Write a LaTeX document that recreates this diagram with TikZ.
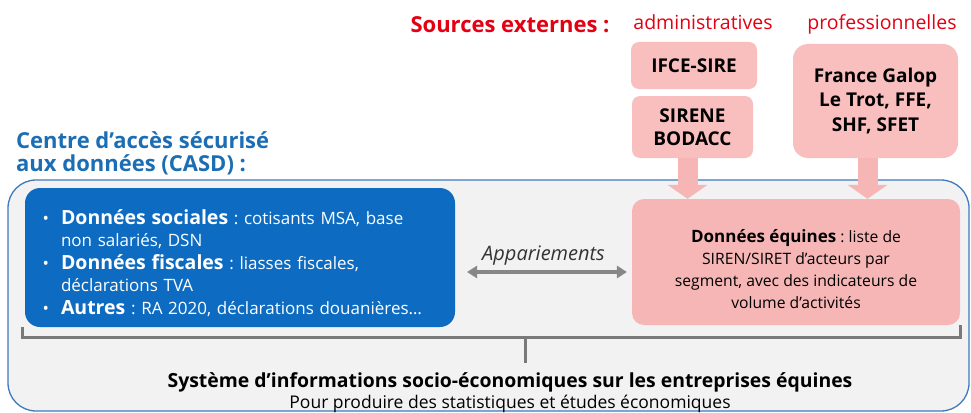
\documentclass[tikz,border=0pt]{standalone}
\usepackage{fontspec}
\setmainfont{Open Sans}
\frenchspacing
\usetikzlibrary{arrows.meta,positioning}
% palette
\definecolor{casdBlue}{RGB}{13,108,194}
\definecolor{casdTitle}{RGB}{28,110,180}
\definecolor{casdFrame}{RGB}{62,122,190}
\definecolor{casdGround}{RGB}{242,242,242}
\definecolor{srcRed}{RGB}{226,0,18}
\definecolor{srcPink}{RGB}{249,190,190}
\definecolor{eqPink}{RGB}{247,182,182}
\definecolor{linkGray}{RGB}{135,135,135}
\newcommand{\fs}[2]{\fontsize{#1}{#2}\selectfont}
\begin{document}
\begin{tikzpicture}[x=1pt, y=-1pt,
  srcbox/.style={fill=srcPink, rounded corners=8pt, align=center, inner sep=0pt,
    font=\bfseries\fs{19}{23}},
  srctitle/.style={text=srcRed, anchor=base, inner sep=0pt},
  feedarrow/.style={draw=eqPink, line width=20pt,
    -{Triangle[width=40pt, length=14pt, line width=0pt]}},
  bracket/.style={draw=linkGray!90!black, line width=3pt}]
\useasboundingbox (0,0) rectangle (971,412);
% CASD enclosure
\path[fill=casdGround, draw=casdFrame, line width=1.3pt, rounded corners=28pt]
  (8,180) rectangle (969,411);
% external sources
\node[srctitle, font=\bfseries\fs{22}{24}] (ext) at (510,33) {Sources externes :};
\node[srctitle, font=\fs{19.5}{22}] (adm) at (703,30) {administratives};
\node[srctitle, font=\fs{19.5}{22}] (pro) at (882,30) {professionnelles};
\node[srcbox, minimum width=126pt, minimum height=47pt] (ifce) at (694,65.5) {IFCE-SIRE};
\node[srcbox, minimum width=121pt, minimum height=62pt] (sirene) at (692.5,127) {SIRENE\\BODACC};
\node[srcbox, rounded corners=15pt, minimum width=165pt, minimum height=114pt,
  font=\bfseries\fs{19}{24.5}] (galop) at (875.5,101) {France Galop\\Le Trot, FFE,\\SHF, SFET};
% CASD heading
\node[anchor=north west, inner sep=0pt, align=left, text=casdTitle,
  font=\bfseries\fs{22}{23.5}] (casdhead) at (16,131) {Centre d’accès sécurisé\\aux données (CASD) :};
% data held in the CASD
\node[fill=casdBlue, rounded corners=15pt, minimum width=430pt, minimum height=139pt]
  (casd) at (240,257.5) {};
\node[text=white, text width=394pt, inner sep=0pt, font=\fs{17}{22.5}] (casdtext)
  at ([yshift=2.5pt]casd.center) {%
  \setlength\leftmargini{18pt}\setlength\labelsep{12pt}%
  \begin{itemize}\setlength\itemsep{0pt}\setlength\parskip{0pt}
    \item {\bfseries\fs{19.5}{22.5}Données sociales} : cotisants MSA, base\newline non salariés, DSN
    \item {\bfseries\fs{19.5}{22.5}Données fiscales} : liasses fiscales,\newline déclarations TVA
    \item {\bfseries\fs{19.5}{22.5}Autres} : RA 2020, déclarations douanières…
  \end{itemize}};
\node[fill=eqPink, rounded corners=12pt, minimum width=328pt, minimum height=126pt]
  (equines) at (796,262) {};
\node[align=center, inner sep=0pt, font=\fs{15.7}{22}] (eqtext) at ([yshift=-7pt]equines.center)
  {{\bfseries\fs{17}{22}Données équines} : liste de\\SIREN/SIRET d’acteurs par\\segment, avec des indicateurs de\\volume d’activités};
% links
\draw[draw=linkGray, line width=4pt,
  {Triangle[width=13pt, length=10pt, line width=0pt]}-{Triangle[width=13pt, length=10pt, line width=0pt]},
  shorten <=12pt, shorten >=5pt]
  ([yshift=-14.5pt]casd.east) -- node[above=1pt, font=\itshape\fs{20}{22}, text=black!80] (appa) {Appariements}
  ([yshift=-10pt]equines.west);
\draw[feedarrow] ([xshift=-5pt]sirene.south) -- ([xshift=-5pt]sirene.south |- equines.north);
\draw[feedarrow] ([xshift=-8pt]galop.south) -- ([xshift=-8pt]galop.south |- equines.north);
% bracket down to the resulting system
\node[anchor=north, align=center, inner sep=0pt, font=\bfseries\fs{19.4}{21.5}] (sys) at (510,372)
  {Système d’informations socio-économiques sur les entreprises équines\\{\mdseries\fs{17.5}{21.5}Pour produire des statistiques et études économiques}};
\draw[bracket] ([xshift=-2pt]casd.south west) -- ++(0,10) coordinate (brkL)
  -| (equines.south east);
\draw[bracket, shorten >=9pt] (525,0 |- brkL) coordinate (stem) -- (stem |- sys.north);
\end{tikzpicture}
\end{document}
